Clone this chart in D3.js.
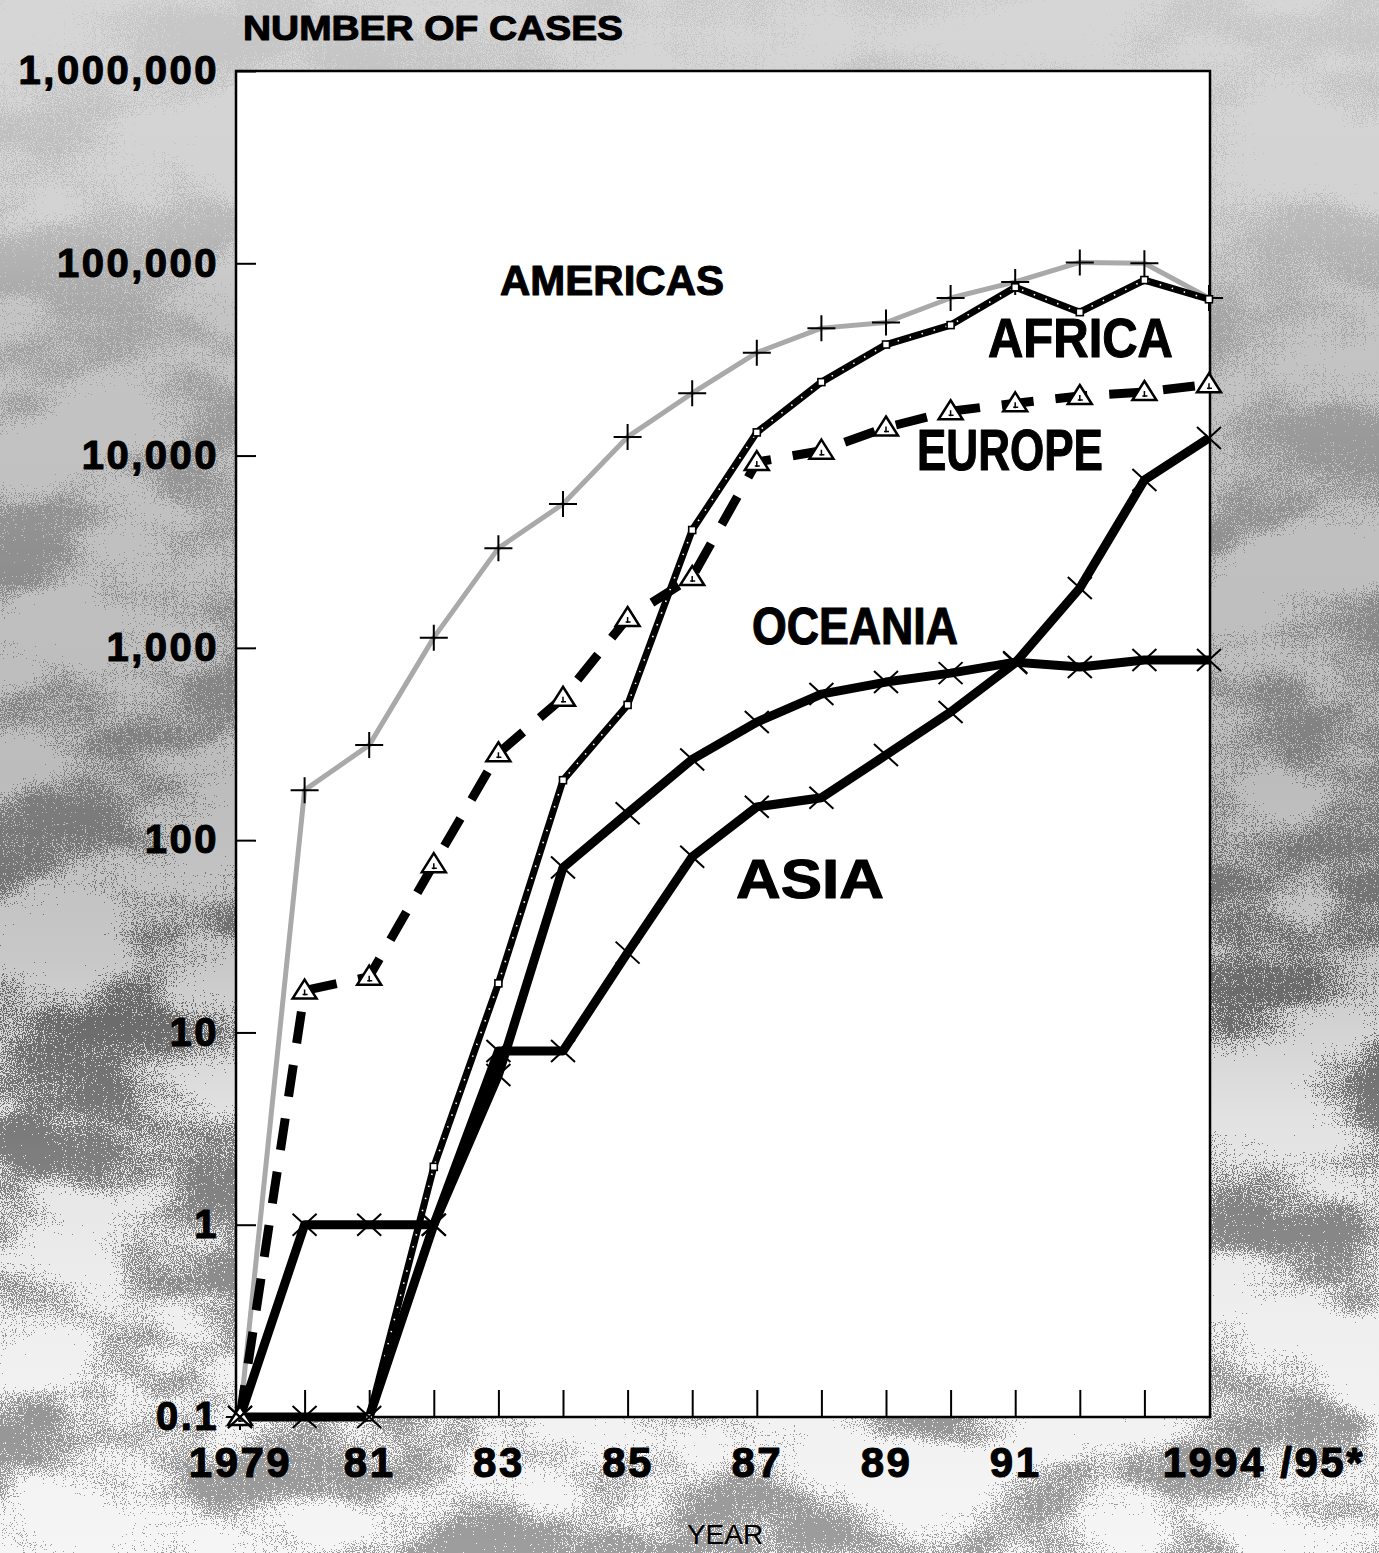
<!DOCTYPE html>
<html>
<head>
<meta charset="utf-8">
<script src="https://cdn.jsdelivr.net/npm/d3@7"></script>
<style>
  body { margin: 0; background: #fff; }
  svg { display: block; font-family: "Liberation Sans", Arial, Helvetica, sans-serif; }
</style>
</head>
<body>
<svg id="chart" width="1379" height="1553"></svg>
<script>
// ---- data (0.1 stands for "no cases" on the log axis)
const years    = [1979, 1980, 1981, 1982, 1983, 1984, 1985, 1986, 1987, 1988, 1989, 1990, 1991, 1992, 1993, 1994];
const americas = [0.1, 182, 312, 1130, 3300, 5600, 12500, 21100, 34300, 46000, 49200, 66000, 80000, 101000, 100000, 66000];
const africa   = [null, null, 0.1, 2, 18, 205, 505, 4100, 13200, 24100, 37800, 47700, 75000, 55700, 81800, 65000];
const europe   = [0.1, 16.5, 19.5, 75, 283, 550, 1430, 2335, 9250, 10600, 14000, 17000, 18700, 20400, 21400, 23500];
const oceania  = [0.1, 1, 1, 1, 6, 72, 138, 263, 411, 575, 664, 739, 843, 795, 865, 865];
const asia     = [0.1, 0.1, 0.1, 1, 8, 8, 26, 82, 149, 166, 277, 464, 834, 2046, 7460, 12330];

const regionNames = ['AMERICAS', 'AFRICA', 'EUROPE', 'OCEANIA', 'ASIA'];

const yTicks      = [0.1, 1, 10, 100, 1000, 10000, 100000, 1000000];
const yTickLabels = ['0.1', '1', '10', '100', '1,000', '10,000', '100,000', '1,000,000'];
const xTickYears  = [1979, 1980, 1981, 1982, 1983, 1984, 1985, 1986, 1987, 1988, 1989, 1990, 1991, 1992, 1993];
const xLabelYears = [1979, 1981, 1983, 1985, 1987, 1989, 1991];
const xLabelText  = ['1979', '81', '83', '85', '87', '89', '91'];
const lastLabel   = '1994 /95*';
const yTitle      = 'NUMBER OF CASES';
const xTitle      = 'YEAR';

// ---- layout
const W = 1379, H = 1553;
const frame = { left: 236, right: 1210, top: 71, bottom: 1417 };

const svg = d3.select('#chart');

const x = d3.scaleLinear().domain([1979, 1994]).range([240, 1209]);
const y = d3.scaleLog().domain([0.1, 1e6]).range([frame.bottom, frame.top]);

// ---- background: grey tone fading out towards the bottom, plus grain
const defs = svg.append('defs');

const bg = defs.append('linearGradient')
  .attr('id', 'bgGrad').attr('gradientUnits', 'userSpaceOnUse')
  .attr('x1', 0).attr('y1', 0).attr('x2', 0).attr('y2', H);
[[0, '#d6d6d6'], [0.14, '#d2d2d2'], [0.2, '#c4c4c4'], [0.5, '#bcbcbc'], [0.62, '#c8c8c8'],
 [0.72, '#e2e2e2'], [0.85, '#efefef'], [1, '#f5f5f5']].forEach(([o, c]) => {
  bg.append('stop').attr('offset', o).attr('stop-color', c);
});

const gm = defs.append('linearGradient')
  .attr('id', 'grainGrad').attr('gradientUnits', 'userSpaceOnUse')
  .attr('x1', 0).attr('y1', 0).attr('x2', 0).attr('y2', H);
[[0, 0.08], [0.15, 0.15], [0.3, 0.3], [0.5, 0.45], [0.65, 0.65], [0.85, 0.5], [1, 0.45]].forEach(([o, a]) => {
  gm.append('stop').attr('offset', o).attr('stop-color', '#fff').attr('stop-opacity', a);
});
defs.append('mask').attr('id', 'grainMask').attr('maskUnits', 'userSpaceOnUse')
  .attr('x', 0).attr('y', 0).attr('width', W).attr('height', H)
  .append('rect').attr('width', W).attr('height', H).attr('fill', 'url(#grainGrad)');

const grain = defs.append('filter')
  .attr('id', 'grain').attr('filterUnits', 'userSpaceOnUse')
  .attr('x', 0).attr('y', 0).attr('width', W).attr('height', H)
  .attr('color-interpolation-filters', 'sRGB');
grain.append('feTurbulence').attr('type', 'fractalNoise').attr('baseFrequency', 0.9)
  .attr('numOctaves', 1).attr('seed', 4).attr('result', 'fine');
grain.append('feTurbulence').attr('type', 'fractalNoise').attr('baseFrequency', '0.006 0.01')
  .attr('numOctaves', 3).attr('seed', 11).attr('result', 'coarse');
grain.append('feComposite').attr('in', 'fine').attr('in2', 'coarse').attr('operator', 'arithmetic')
  .attr('k2', 0.6).attr('k3', 0.7).attr('k4', -0.15).attr('result', 'mix');
grain.append('feColorMatrix').attr('in', 'mix').attr('type', 'matrix')
  .attr('values', '0 0 0 0 0.2  0 0 0 0 0.2  0 0 0 0 0.2  -9 0 0 0 3.4');
grain.append('feComponentTransfer').append('feFuncA').attr('type', 'discrete').attr('tableValues', '0 1');

svg.append('rect').attr('width', W).attr('height', H).attr('fill', 'url(#bgGrad)');
svg.append('g').attr('mask', 'url(#grainMask)')
  .append('rect').attr('width', W).attr('height', H)
  .attr('filter', 'url(#grain)');

// plot area
svg.append('rect')
  .attr('x', frame.left).attr('y', frame.top)
  .attr('width', frame.right - frame.left).attr('height', frame.bottom - frame.top)
  .attr('fill', '#fff');

// heavy text look
const heavy = sel => sel.attr('font-weight', 'bold').attr('fill', '#000')
  .attr('stroke', '#000').attr('stroke-width', 1.1).attr('stroke-linejoin', 'round');

// ---- axes
const yAxis = svg.append('g')
  .attr('transform', `translate(${frame.left},0)`)
  .call(d3.axisLeft(y).tickValues(yTicks).tickFormat((d, i) => yTickLabels[i])
    .tickSize(-20).tickPadding(17).tickSizeOuter(0));
yAxis.select('.domain').remove();
yAxis.selectAll('line').attr('stroke', '#000').attr('stroke-width', 2);
yAxis.selectAll('text').attr('font-size', 40).style('letter-spacing', '2.5px').call(heavy);
yAxis.attr('font-family', null).attr('font-size', null);

const xAxis = svg.append('g')
  .attr('transform', `translate(0,${frame.bottom})`)
  .call(d3.axisBottom(x).tickValues(xTickYears)
    .tickFormat(d => { const i = xLabelYears.indexOf(d); return i < 0 ? '' : xLabelText[i]; })
    .tickSize(-27).tickPadding(30).tickSizeOuter(0));
xAxis.select('.domain').remove();
xAxis.selectAll('line').attr('stroke', '#000').attr('stroke-width', 2);
xAxis.selectAll('text').attr('font-size', 42).style('letter-spacing', '2.5px').call(heavy);
xAxis.attr('font-family', null).attr('font-size', null);

svg.append('text')
  .attr('x', x(1994) + 156).attr('y', frame.bottom + 60)
  .attr('text-anchor', 'end')
  .attr('font-size', 42)
  .style('letter-spacing', '2.5px')
  .call(heavy)
  .text(lastLabel);

// frame
svg.append('rect')
  .attr('x', frame.left).attr('y', frame.top)
  .attr('width', frame.right - frame.left).attr('height', frame.bottom - frame.top)
  .attr('fill', 'none').attr('stroke', '#000').attr('stroke-width', 2.5);

// titles
svg.append('text')
  .attr('x', 243).attr('y', 40)
  .attr('font-size', 35)
  .attr('textLength', 380).attr('lengthAdjust', 'spacingAndGlyphs')
  .call(heavy)
  .text(yTitle);

svg.append('text')
  .attr('x', 725).attr('y', 1544)
  .attr('text-anchor', 'middle')
  .attr('font-size', 28)
  .text(xTitle);

// ---- series
const series = [
  { name: 'Americas', values: americas, stroke: '#a9a9a9', width: 5, dash: null,    marker: 'plus' },
  { name: 'Europe',   values: europe,   stroke: '#000',    width: 9, dash: '32,22', marker: 'triangle' },
  { name: 'Africa',   values: africa,   stroke: '#000',    width: 7, dash: null,    marker: 'square', speckle: true },
  { name: 'Oceania',  values: oceania,  stroke: '#000',    width: 9, dash: null,    marker: 'cross' },
  { name: 'Asia',     values: asia,     stroke: '#000',    width: 9, dash: null,    marker: 'cross' }
];

const line = d3.line()
  .defined(d => d.v != null)
  .x(d => x(d.year))
  .y(d => y(d.v));

const gLines = svg.append('g');
series.forEach(s => {
  const pts = years.map((yr, i) => ({ year: yr, v: s.values[i] }));
  gLines.append('path')
    .datum(pts)
    .attr('d', line)
    .attr('fill', 'none')
    .attr('stroke', s.stroke)
    .attr('stroke-width', s.width)
    .attr('stroke-linejoin', 'round')
    .attr('stroke-dasharray', s.dash);
  if (s.speckle) {
    gLines.append('path')
      .datum(pts)
      .attr('d', line)
      .attr('fill', 'none')
      .attr('stroke', '#fff')
      .attr('stroke-width', 1.6)
      .attr('stroke-dasharray', '1.5,11');
  }
  s.pts = pts.filter(d => d.v != null);
});

const gMarks = svg.append('g');
series.forEach(s => {
  const g = gMarks.selectAll(null)
    .data(s.pts)
    .join('g')
    .attr('transform', d => `translate(${x(d.year)},${y(d.v)})`);
  if (s.marker === 'plus') {
    g.append('path').attr('d', 'M-14,0H14M0,-13V13')
      .attr('stroke', '#000').attr('stroke-width', 2);
  } else if (s.marker === 'triangle') {
    g.append('path').attr('d', 'M0,-11L12,8H-12Z')
      .attr('fill', '#fff').attr('stroke', '#000').attr('stroke-width', 2.5);
    g.append('path').attr('d', 'M-2,4H3M0,-1V5')
      .attr('stroke', '#000').attr('stroke-width', 1.5);
  } else if (s.marker === 'square') {
    g.append('rect').attr('x', -3.5).attr('y', -3.5).attr('width', 7).attr('height', 7)
      .attr('fill', '#fff').attr('stroke', '#000').attr('stroke-width', 1.6);
  } else {
    g.append('path').attr('d', 'M-12,-11L12,11M-12,11L12,-11')
      .attr('stroke', '#000').attr('stroke-width', 2);
  }
});

// ---- region labels
const labelLayout = {
  AMERICAS: { x: 500, y: 295, size: 42, len: 224 },
  AFRICA:   { x: 988, y: 357, size: 55, len: 185 },
  EUROPE:   { x: 917, y: 470, size: 57, len: 186 },
  OCEANIA:  { x: 752, y: 644, size: 51, len: 206 },
  ASIA:     { x: 736, y: 898, size: 55, len: 148 }
};
svg.append('g').selectAll('text')
  .data(regionNames)
  .join('text')
  .attr('x', d => labelLayout[d].x)
  .attr('y', d => labelLayout[d].y)
  .attr('font-size', d => labelLayout[d].size)
  .attr('textLength', d => labelLayout[d].len)
  .attr('lengthAdjust', 'spacingAndGlyphs')
  .call(heavy)
  .text(d => d);
</script>
</body>
</html>
